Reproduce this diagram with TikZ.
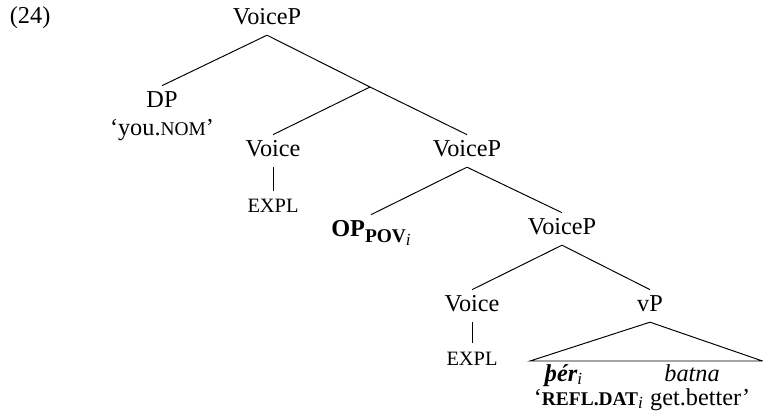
\documentclass[tikz,border=0pt]{standalone}
\usepackage{fontspec}
\setmainfont{Liberation Serif}
\usetikzlibrary{positioning}

% fake small caps
\newcommand{\smc}[1]{{\footnotesize #1}}
\newcommand{\explsc}{{\fontsize{8.4}{10}\selectfont EXPL}}

\begin{document}
\begin{tikzpicture}[
  x=0.412pt, y=-0.412pt,
  cat/.style={anchor=base, text height=7pt, text depth=2pt, inner xsep=1pt, inner ysep=2pt},
  gloss/.style={anchor=base, inner sep=1pt},
  branch/.style={line width=0.4pt}
]
\useasboundingbox (0,0) rectangle (763,417);
\node[gloss, anchor=base west] (num) at (7,24) {(24)};

\node[cat] (vp1) at (267,25) {VoiceP};
\node[cat] (dp) at (162,108) {DP};
\node[gloss] (dpgl) at (162,136) {`you.\smc{NOM}'};
\coordinate (bar) at (370,87);
\node[cat] (voice1) at (273,157) {Voice};
\node[cat] (expl1) at (273,213) {\explsc};
\node[cat] (vp2) at (467,157) {VoiceP};
\node[cat] (op) at (371,237) {\textbf{OP}\raisebox{-0.45ex}{\footnotesize\textbf{POV}\raisebox{-0.35ex}{\scriptsize\textit{i}}}};
\node[cat] (vp3) at (562,235) {VoiceP};
\node[cat] (voice2) at (472,312) {Voice};
\node[cat] (expl2) at (472,365) {\explsc};
\node[cat] (vp) at (650,312) {vP};

% triangle over the vP material
\coordinate (tl) at (530,361);
\coordinate (tr) at (762.5,361);
\node[gloss, anchor=base west] (ther) at (542,381) {\textbf{\textit{þér}}\textsubscript{\textit{i}}};
\node[gloss] (batna) at (692,381) {\textit{batna}};
\node[gloss] (vpgl) at (642,405) {`\smc{\textbf{REFL.DAT}}\textsubscript{\textit{i}} get.better'};

\draw[branch] (vp1.south) -- (bar);
\draw[branch] (vp1.south) -- (dp.north);
\draw[branch] (bar) -- (voice1.north);
\draw[branch] (bar) -- (vp2.north);
\foreach \p/\c in {voice1/expl1, vp2/op, vp2/vp3, vp3/voice2, vp3/vp, voice2/expl2}
  \draw[branch] (\p.south) -- (\c.north);
\draw[branch] (vp.south) -- (tl) -- (tr) -- cycle;
\end{tikzpicture}
\end{document}
